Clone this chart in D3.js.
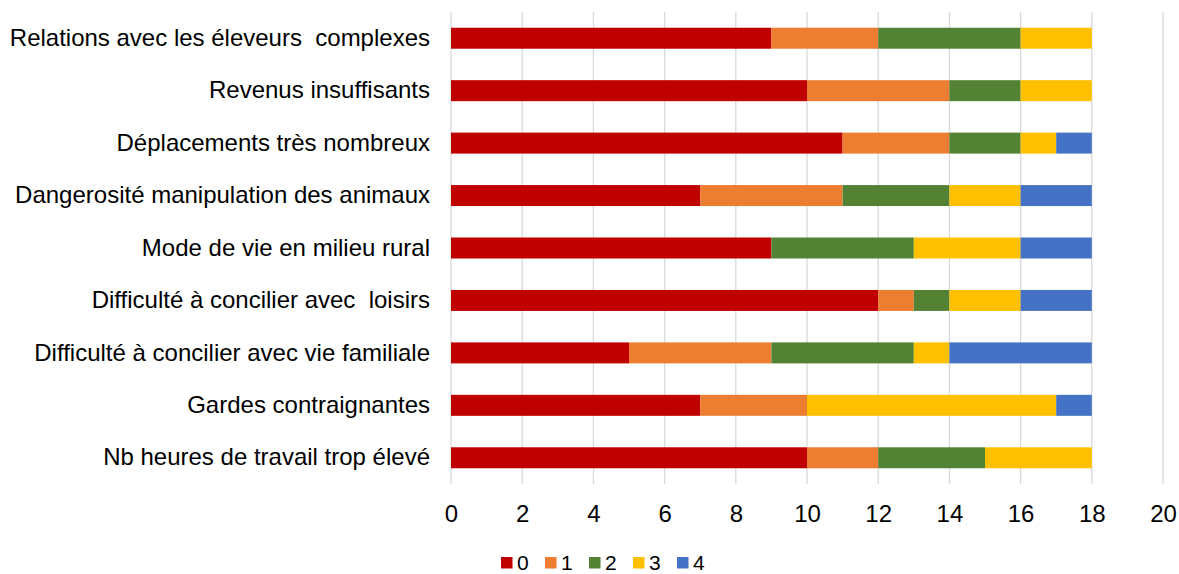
<!DOCTYPE html>
<html><head><meta charset="utf-8">
<script src="https://cdn.jsdelivr.net/npm/d3@7"></script>
<style>body{margin:0;background:#fff}svg{display:block}text{font-family:Arial,"Liberation Sans",sans-serif;fill:#000;white-space:pre}</style>
</head><body>
<script>
const categories = ["Relations avec les éleveurs  complexes","Revenus insuffisants","Déplacements très nombreux","Dangerosité manipulation des animaux","Mode de vie en milieu rural","Difficulté à concilier avec  loisirs","Difficulté à concilier avec vie familiale","Gardes contraignantes","Nb heures de travail trop élevé"];
const seriesNames = ["0","1","2","3","4"];
const s0 = [9,10,11,7,9,12,5,7,10];
const s1 = [3,4,3,4,0,1,4,3,2];
const s2 = [4,2,2,3,4,1,4,0,3];
const s3 = [2,2,1,2,3,2,1,7,3];
const s4 = [0,0,1,2,2,2,4,1,0];
const colors = ["#C00000","#ED7D31","#548235","#FFC000","#4472C4"];
const xTicks = [0,2,4,6,8,10,12,14,16,18,20];

const W=1179,H=574, mLeft=451, mRight=1163, mTop=12, mBottom=484;
const svg=d3.select("body").append("svg").attr("width",W).attr("height",H);
const x=d3.scaleLinear().domain([0,20]).range([mLeft,mRight]);
const y=d3.scaleBand().domain(categories).range([mTop,mBottom]).paddingInner(0.6).paddingOuter(0.3);

svg.append("g").selectAll("line").data(xTicks).join("line")
  .attr("x1",d=>x(d)).attr("x2",d=>x(d)).attr("y1",mTop).attr("y2",mBottom)
  .attr("stroke","#d9d9d9").attr("stroke-width",1.3);

const table=categories.map((c,i)=>({cat:c,"0":s0[i],"1":s1[i],"2":s2[i],"3":s3[i],"4":s4[i]}));
const stacked=d3.stack().keys(seriesNames)(table);
svg.append("g").selectAll("g").data(stacked).join("g").attr("fill",(d,i)=>colors[i])
  .selectAll("rect").data(d=>d).join("rect")
  .attr("x",d=>x(d[0])).attr("width",d=>x(d[1])-x(d[0]))
  .attr("y",d=>y(d.data.cat)).attr("height",y.bandwidth());

const xa=svg.append("g").attr("transform",`translate(0,${mBottom})`).call(d3.axisBottom(x).tickValues(xTicks).tickSize(0).tickPadding(21));
xa.select(".domain").remove();
xa.selectAll("text").attr("font-size",24).attr("font-family","Arial, 'Liberation Sans', sans-serif").attr("fill","#000");

const ya=svg.append("g").attr("transform",`translate(${mLeft},0)`).call(d3.axisLeft(y).tickSize(0).tickPadding(21));
ya.select(".domain").remove();
ya.selectAll("text").attr("font-size",24).attr("font-family","Arial, 'Liberation Sans', sans-serif").attr("fill","#000").attr("xml:space","preserve");

const lg=svg.append("g").attr("transform","translate(501,557)");
const items=lg.selectAll("g").data(seriesNames).join("g").attr("transform",(d,i)=>`translate(${i*44},0)`);
items.append("rect").attr("width",11.5).attr("height",11.5).attr("fill",(d,i)=>colors[i]);
items.append("text").attr("x",16).attr("y",5.5).attr("dy","0.36em").attr("font-size",21).text(d=>d);
</script>
</body></html>
